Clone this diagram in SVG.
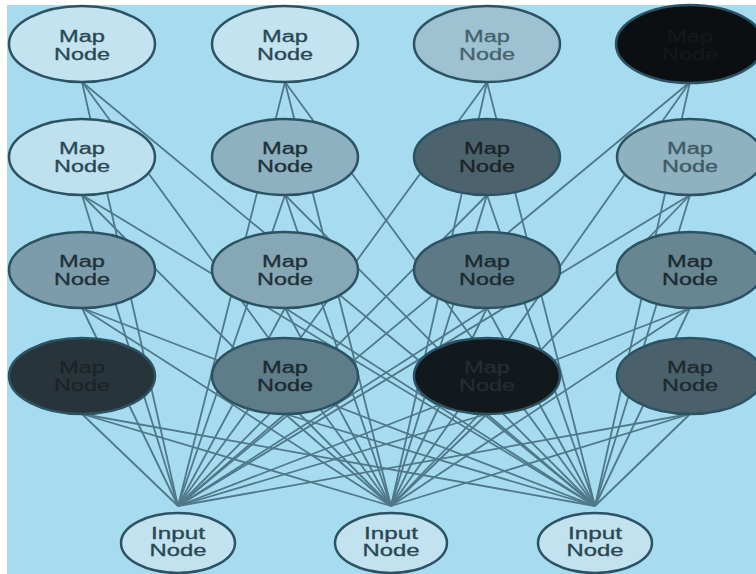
<svg xmlns="http://www.w3.org/2000/svg" width="756" height="574" viewBox="0 0 756 574">
<style>
.n{stroke:#2c5363;stroke-width:2.5}
.t{font-family:"Liberation Sans",Arial,sans-serif;font-size:16px;text-anchor:middle;stroke-width:0.3}
.c line{stroke:#4f7889;stroke-width:1.8}
</style>
<rect x="0" y="0" width="756" height="574" fill="#ffffff"/>
<rect x="7" y="5" width="749" height="569" fill="#a7dcf0"/>
<g id="connectors" class="c">
<line x1="82" y1="82" x2="178" y2="506"/><line x1="82" y1="82" x2="391" y2="506"/><line x1="82" y1="82" x2="595" y2="506"/>
<line x1="285" y1="82" x2="178" y2="506"/><line x1="285" y1="82" x2="391" y2="506"/><line x1="285" y1="82" x2="595" y2="506"/>
<line x1="487" y1="82" x2="178" y2="506"/><line x1="487" y1="82" x2="391" y2="506"/><line x1="487" y1="82" x2="595" y2="506"/>
<line x1="690" y1="82" x2="178" y2="506"/><line x1="690" y1="82" x2="391" y2="506"/><line x1="690" y1="82" x2="595" y2="506"/>
<line x1="82" y1="195" x2="178" y2="506"/><line x1="82" y1="195" x2="391" y2="506"/><line x1="82" y1="195" x2="595" y2="506"/>
<line x1="285" y1="195" x2="178" y2="506"/><line x1="285" y1="195" x2="391" y2="506"/><line x1="285" y1="195" x2="595" y2="506"/>
<line x1="487" y1="195" x2="178" y2="506"/><line x1="487" y1="195" x2="391" y2="506"/><line x1="487" y1="195" x2="595" y2="506"/>
<line x1="690" y1="195" x2="178" y2="506"/><line x1="690" y1="195" x2="391" y2="506"/><line x1="690" y1="195" x2="595" y2="506"/>
<line x1="82" y1="308" x2="178" y2="506"/><line x1="82" y1="308" x2="391" y2="506"/><line x1="82" y1="308" x2="595" y2="506"/>
<line x1="285" y1="308" x2="178" y2="506"/><line x1="285" y1="308" x2="391" y2="506"/><line x1="285" y1="308" x2="595" y2="506"/>
<line x1="487" y1="308" x2="178" y2="506"/><line x1="487" y1="308" x2="391" y2="506"/><line x1="487" y1="308" x2="595" y2="506"/>
<line x1="690" y1="308" x2="178" y2="506"/><line x1="690" y1="308" x2="391" y2="506"/><line x1="690" y1="308" x2="595" y2="506"/>
<line x1="82" y1="414" x2="178" y2="506"/><line x1="82" y1="414" x2="391" y2="506"/><line x1="82" y1="414" x2="595" y2="506"/>
<line x1="285" y1="414" x2="178" y2="506"/><line x1="285" y1="414" x2="391" y2="506"/><line x1="285" y1="414" x2="595" y2="506"/>
<line x1="487" y1="414" x2="178" y2="506"/><line x1="487" y1="414" x2="391" y2="506"/><line x1="487" y1="414" x2="595" y2="506"/>
<line x1="690" y1="414" x2="178" y2="506"/><line x1="690" y1="414" x2="391" y2="506"/><line x1="690" y1="414" x2="595" y2="506"/>
</g>
<g id="map-1-1"><ellipse class="n" cx="82" cy="44" rx="73" ry="38" fill="#c4e3f0"/><text class="t" fill="#2a4753" stroke="#2a4753" x="82" y="42" textLength="46" lengthAdjust="spacingAndGlyphs">Map</text><text class="t" fill="#2a4753" stroke="#2a4753" x="82" y="60" textLength="56" lengthAdjust="spacingAndGlyphs">Node</text></g>
<g id="map-1-2"><ellipse class="n" cx="285" cy="44" rx="73" ry="38" fill="#c4e3f0"/><text class="t" fill="#2a4753" stroke="#2a4753" x="285" y="42" textLength="46" lengthAdjust="spacingAndGlyphs">Map</text><text class="t" fill="#2a4753" stroke="#2a4753" x="285" y="60" textLength="56" lengthAdjust="spacingAndGlyphs">Node</text></g>
<g id="map-1-3"><ellipse class="n" cx="487" cy="44" rx="73" ry="38" fill="#9fc2d2"/><text class="t" fill="#46626e" stroke="#46626e" x="487" y="42" textLength="46" lengthAdjust="spacingAndGlyphs">Map</text><text class="t" fill="#46626e" stroke="#46626e" x="487" y="60" textLength="56" lengthAdjust="spacingAndGlyphs">Node</text></g>
<g id="map-1-4"><ellipse class="n" cx="690" cy="44" rx="74" ry="39" fill="#0b0f12"/><text class="t" fill="#13181b" stroke="#13181b" x="690" y="42" textLength="46" lengthAdjust="spacingAndGlyphs">Map</text><text class="t" fill="#13181b" stroke="#13181b" x="690" y="60" textLength="56" lengthAdjust="spacingAndGlyphs">Node</text></g>
<g id="map-2-1"><ellipse class="n" cx="82" cy="157" rx="73" ry="38" fill="#bfe0ee"/><text class="t" fill="#2a4753" stroke="#2a4753" x="82" y="154" textLength="46" lengthAdjust="spacingAndGlyphs">Map</text><text class="t" fill="#2a4753" stroke="#2a4753" x="82" y="172" textLength="56" lengthAdjust="spacingAndGlyphs">Node</text></g>
<g id="map-2-2"><ellipse class="n" cx="285" cy="157" rx="73" ry="38" fill="#8db1c1"/><text class="t" fill="#1f3038" stroke="#1f3038" x="285" y="154" textLength="46" lengthAdjust="spacingAndGlyphs">Map</text><text class="t" fill="#1f3038" stroke="#1f3038" x="285" y="172" textLength="56" lengthAdjust="spacingAndGlyphs">Node</text></g>
<g id="map-2-3"><ellipse class="n" cx="487" cy="157" rx="73" ry="38" fill="#4c636d"/><text class="t" fill="#1a2328" stroke="#1a2328" x="487" y="154" textLength="46" lengthAdjust="spacingAndGlyphs">Map</text><text class="t" fill="#1a2328" stroke="#1a2328" x="487" y="172" textLength="56" lengthAdjust="spacingAndGlyphs">Node</text></g>
<g id="map-2-4"><ellipse class="n" cx="690" cy="157" rx="73" ry="38" fill="#8fb1c0"/><text class="t" fill="#3f5a65" stroke="#3f5a65" x="690" y="154" textLength="46" lengthAdjust="spacingAndGlyphs">Map</text><text class="t" fill="#3f5a65" stroke="#3f5a65" x="690" y="172" textLength="56" lengthAdjust="spacingAndGlyphs">Node</text></g>
<g id="map-3-1"><ellipse class="n" cx="82" cy="270" rx="73" ry="38" fill="#7c9cab"/><text class="t" fill="#1f3038" stroke="#1f3038" x="82" y="267" textLength="46" lengthAdjust="spacingAndGlyphs">Map</text><text class="t" fill="#1f3038" stroke="#1f3038" x="82" y="285" textLength="56" lengthAdjust="spacingAndGlyphs">Node</text></g>
<g id="map-3-2"><ellipse class="n" cx="285" cy="270" rx="73" ry="38" fill="#86a7b5"/><text class="t" fill="#1f3038" stroke="#1f3038" x="285" y="267" textLength="46" lengthAdjust="spacingAndGlyphs">Map</text><text class="t" fill="#1f3038" stroke="#1f3038" x="285" y="285" textLength="56" lengthAdjust="spacingAndGlyphs">Node</text></g>
<g id="map-3-3"><ellipse class="n" cx="487" cy="270" rx="73" ry="38" fill="#5d7985"/><text class="t" fill="#1a2a30" stroke="#1a2a30" x="487" y="267" textLength="46" lengthAdjust="spacingAndGlyphs">Map</text><text class="t" fill="#1a2a30" stroke="#1a2a30" x="487" y="285" textLength="56" lengthAdjust="spacingAndGlyphs">Node</text></g>
<g id="map-3-4"><ellipse class="n" cx="690" cy="270" rx="73" ry="38" fill="#688592"/><text class="t" fill="#1a2a30" stroke="#1a2a30" x="690" y="267" textLength="46" lengthAdjust="spacingAndGlyphs">Map</text><text class="t" fill="#1a2a30" stroke="#1a2a30" x="690" y="285" textLength="56" lengthAdjust="spacingAndGlyphs">Node</text></g>
<g id="map-4-1"><ellipse class="n" cx="82" cy="376" rx="73" ry="38" fill="#27353b"/><text class="t" fill="#1b2327" stroke="#1b2327" x="82" y="373" textLength="46" lengthAdjust="spacingAndGlyphs">Map</text><text class="t" fill="#1b2327" stroke="#1b2327" x="82" y="391" textLength="56" lengthAdjust="spacingAndGlyphs">Node</text></g>
<g id="map-4-2"><ellipse class="n" cx="285" cy="376" rx="73" ry="38" fill="#5f7c89"/><text class="t" fill="#1a2a30" stroke="#1a2a30" x="285" y="373" textLength="46" lengthAdjust="spacingAndGlyphs">Map</text><text class="t" fill="#1a2a30" stroke="#1a2a30" x="285" y="391" textLength="56" lengthAdjust="spacingAndGlyphs">Node</text></g>
<g id="map-4-3"><ellipse class="n" cx="487" cy="376" rx="73" ry="38" fill="#12191d"/><text class="t" fill="#242d31" stroke="#242d31" x="487" y="373" textLength="46" lengthAdjust="spacingAndGlyphs">Map</text><text class="t" fill="#242d31" stroke="#242d31" x="487" y="391" textLength="56" lengthAdjust="spacingAndGlyphs">Node</text></g>
<g id="map-4-4"><ellipse class="n" cx="690" cy="376" rx="73" ry="38" fill="#4a616b"/><text class="t" fill="#1e292e" stroke="#1e292e" x="690" y="373" textLength="46" lengthAdjust="spacingAndGlyphs">Map</text><text class="t" fill="#1e292e" stroke="#1e292e" x="690" y="391" textLength="56" lengthAdjust="spacingAndGlyphs">Node</text></g>
<g id="input-1"><ellipse class="n" cx="178" cy="543" rx="57" ry="30" fill="#c2e2ef"/><text class="t" fill="#2a4753" stroke="#2a4753" x="178" y="539" textLength="54" lengthAdjust="spacingAndGlyphs">Input</text><text class="t" fill="#2a4753" stroke="#2a4753" x="178" y="556" textLength="57" lengthAdjust="spacingAndGlyphs">Node</text></g>
<g id="input-2"><ellipse class="n" cx="391" cy="543" rx="56" ry="30" fill="#c2e2ef"/><text class="t" fill="#2a4753" stroke="#2a4753" x="391" y="539" textLength="54" lengthAdjust="spacingAndGlyphs">Input</text><text class="t" fill="#2a4753" stroke="#2a4753" x="391" y="556" textLength="57" lengthAdjust="spacingAndGlyphs">Node</text></g>
<g id="input-3"><ellipse class="n" cx="595" cy="543" rx="57" ry="30" fill="#c2e2ef"/><text class="t" fill="#2a4753" stroke="#2a4753" x="595" y="539" textLength="54" lengthAdjust="spacingAndGlyphs">Input</text><text class="t" fill="#2a4753" stroke="#2a4753" x="595" y="556" textLength="57" lengthAdjust="spacingAndGlyphs">Node</text></g>
</svg>
